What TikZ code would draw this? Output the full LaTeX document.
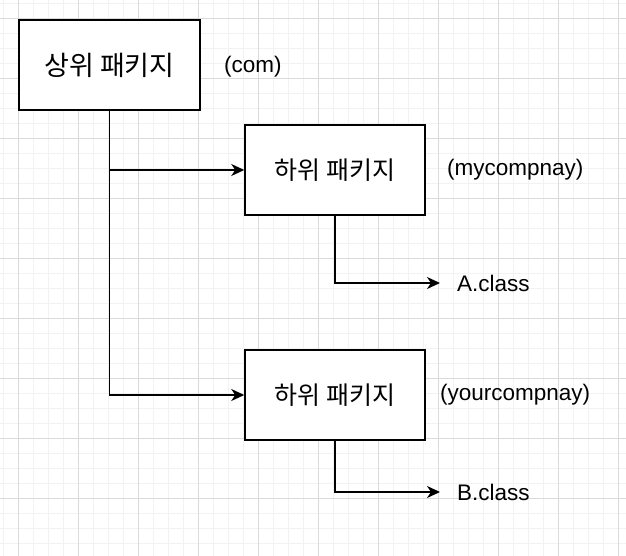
\documentclass[tikz,border=0pt]{standalone}
\usepackage{fontspec}
\setmainfont{Liberation Sans}
\newfontfamily\kr{Noto Sans CJK KR}
\usetikzlibrary{arrows.meta}
\definecolor{gminor}{HTML}{F2F2F2}
\definecolor{gmajor}{HTML}{DADADA}
\begin{document}
\begin{tikzpicture}[x=1pt,y=-1pt,
  box/.style={draw=black,line width=1.5pt,fill=white,minimum width=180pt,minimum height=90pt,inner sep=0pt,font=\kr\fontsize{25}{28}\selectfont},
  lbl/.style={inner sep=0pt,anchor=west,font=\fontsize{22.5}{26}\selectfont},
  conn/.style={line width=1.5pt,-{Stealth[length=13pt,width=12pt,inset=4pt]}},
  plain/.style={line width=1.5pt}]
\useasboundingbox (0,0) rectangle (626,556);
\fill[white] (0,0) rectangle (626,556);
\foreach \x in {3,18,...,626} \draw[gminor,line width=0.8pt] (\x,0) -- (\x,556);
\foreach \y in {3,18,...,556} \draw[gminor,line width=0.8pt] (0,\y) -- (626,\y);
\foreach \x in {18,78,...,626} \draw[gmajor,line width=0.8pt] (\x,0) -- (\x,556);
\foreach \y in {18,78,...,556} \draw[gmajor,line width=0.8pt] (0,\y) -- (626,\y);

\node[box,minimum width=181pt,font=\kr\fontsize{27}{30}\selectfont] (top) at (109.5,65) {상위 패키지};
\node[box] (sub1) at (335,170) {하위 패키지};
\node[box] (sub2) at (335,395) {하위 패키지};

\node[lbl] (com) at (224,67) {(com)};
\node[lbl] (my) at (447,170) {(mycompnay)};
\node[lbl] (your) at (440,395) {(yourcompnay)};
\node[lbl] (a) at (457,283) {A.class};
\node[lbl] (b) at (457,492) {B.class};

\coordinate (ta) at (440,283);
\coordinate (tb) at (440,492);

\draw[conn] (top.south) |- (sub1.west);
\draw[conn] (top.south) |- (sub2.west);
\draw[conn] (sub1.south) |- (ta);
\draw[conn] (sub2.south) |- (tb);
\end{tikzpicture}
\end{document}
